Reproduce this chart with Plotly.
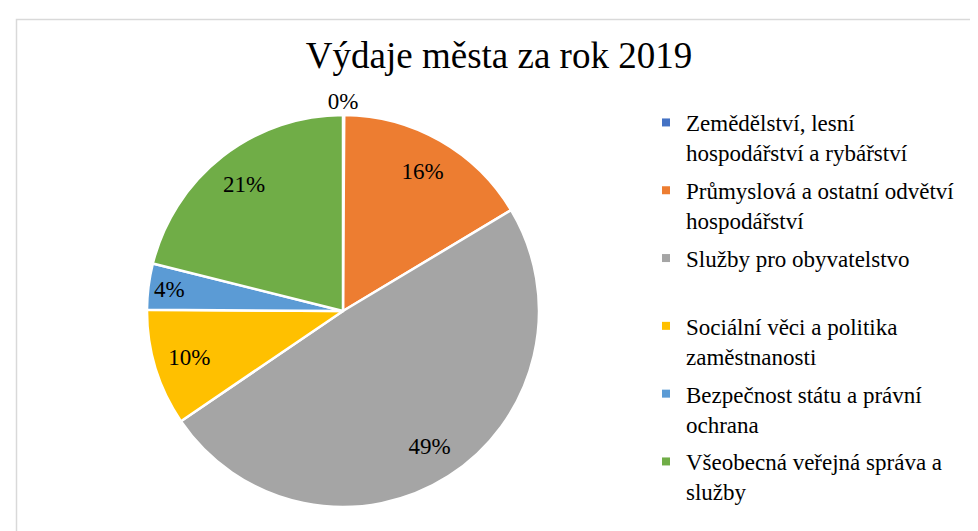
import plotly.graph_objects as go

categories = [
    "Zemědělství, lesní<br>hospodářství a rybářství",
    "Průmyslová a ostatní odvětví<br>hospodářství",
    "Služby pro obyvatelstvo<br> ",
    "Sociální věci a politika<br>zaměstnanosti",
    "Bezpečnost státu a právní<br>ochrana",
    "Všeobecná veřejná správa a<br>služby",
]
shares = [0.1, 16.3, 49.1, 9.6, 3.8, 21.1]
colors = ["#4472C4", "#ED7D31", "#A5A5A5", "#FFC000", "#5B9BD5", "#70AD47"]
title_text = "Výdaje města za rok 2019"

FONT = "Liberation Serif"
W, H = 978, 531
cx, cy, r = 335, 303, 196
dom = dict(x=[(cx - r) / W, (cx + r) / W], y=[(H - cy - r) / H, (H - cy + r) / H])

total = sum(shares)
pct_text = [f"{round(v / total * 100)}%" for v in shares]
# the tiny first slice gets its label centred above the pie (as in the original)
inner_text = [""] + pct_text[1:]

fig = go.Figure()
# coloured pie
fig.add_trace(go.Pie(
    labels=categories, values=shares, sort=False, direction="clockwise", rotation=0,
    marker=dict(colors=colors, line=dict(color="white", width=2.5)),
    textinfo="none", hoverinfo="label+percent", domain=dom, showlegend=False,
))
# transparent overlay carrying the inside data labels
fig.add_trace(go.Pie(
    labels=categories, values=shares, sort=False, direction="clockwise", rotation=0,
    hole=0.64,
    marker=dict(colors=["rgba(0,0,0,0)"] * len(shares), line=dict(width=0)),
    text=inner_text, textinfo="text", textposition="inside",
    insidetextorientation="horizontal",
    textfont=dict(family=FONT, size=23, color="black"),
    hoverinfo="skip", domain=dom, showlegend=False,
))
# transparent pie whose title carries the label of the tiny first slice
fig.add_trace(go.Pie(
    values=[1], sort=False, textinfo="none", hoverinfo="skip", showlegend=False,
    marker=dict(colors=["rgba(0,0,0,0)"], line=dict(width=0)),
    title=dict(text=pct_text[0], position="top center",
               font=dict(family=FONT, size=23, color="black")),
    domain=dict(x=dom["x"], y=[dom["y"][0], dom["y"][1] + 34 / H]),
))
# legend entries
for name, col in zip(categories, colors):
    fig.add_trace(go.Scatter(
        x=[None], y=[None], mode="markers", name=name, legendgroup=name,
        marker=dict(symbol="square", size=8, color=col),
    ))

fig.update_layout(
    width=W, height=H,
    margin=dict(l=0, r=0, t=0, b=0),
    paper_bgcolor="white", plot_bgcolor="white",
    uniformtext=dict(minsize=23, mode="show"),
    xaxis=dict(visible=False), yaxis=dict(visible=False),
    title=dict(text=title_text, x=491 / W, xanchor="center",
               y=1 - 47 / H, yanchor="middle", yref="container",
               font=dict(family=FONT, size=37, color="black")),
    legend=dict(x=638 / W, xanchor="left", y=1 - 93 / H, yanchor="top",
                font=dict(family=FONT, size=23, color="black"),
                valign="top", tracegroupgap=5, bgcolor="rgba(0,0,0,0)", borderwidth=0),
    shapes=[dict(type="rect", xref="paper", yref="paper",
                 x0=8.5 / W, x1=1.02, y0=-0.02, y1=1 - 11.5 / H,
                 line=dict(color="#D9D9D9", width=1.5), fillcolor="rgba(0,0,0,0)",
                 layer="below")],
)

fig.write_html("out.html")
